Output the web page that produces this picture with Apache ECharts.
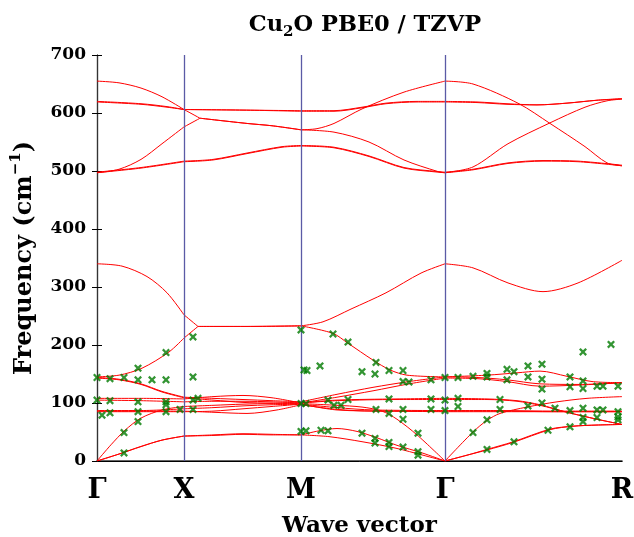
<!DOCTYPE html>
<html>
<head>
<meta charset="utf-8">
<script src="https://cdn.jsdelivr.net/npm/echarts@6/dist/echarts.min.js"></script>
<style>html,body{margin:0;padding:0;background:#fff}#c{width:634px;height:537px}</style>
</head>
<body>
<div id="c"></div>
<script>
// High-symmetry points (label, path position)
const kLabels = ['Γ', 'X', 'M', 'Γ', 'R'];
const kPos = [0, 87, 204, 348, 525];
const breakK = [87, 204, 348, 101, 103];
const yTicks = [0, 100, 200, 300, 400, 500, 600, 700];

// Calculated bands: [wave-vector position, frequency cm-1]
const ta1 = [[0,0],[22,12],[44,25],[65,36],[87,43],[116,45],[146,47],[175,46],[204,45],[222,52],[240,56],[260,51],[280,40],[300,27],[325,14],[348,0],[370,10],[390,20],[416,33],[453,55],[476,60],[500,62],[525,63]];
const ta2 = [[0,0],[22,12],[44,25],[65,36],[87,43],[116,44],[146,46],[175,45],[204,45],[232,42],[266,33],[299,22],[326,10],[348,0],[370,10],[390,19],[416,32],[453,54],[476,60],[500,62],[525,63]];
const la = [[0,0],[14,28],[28,53],[44,74],[65,88],[87,94],[116,96],[146,98],[175,99],[204,99],[240,96],[265,93],[285,86],[300,72],[320,45],[348,0],[376,50],[390,70],[403,82],[430,93],[460,102],[490,108],[525,111]];
const t2uA = [[0,87],[44,87],[87,90],[116,92],[146,95],[175,97],[204,98],[240,92],[276,88],[348,87],[400,87],[460,86],[525,86]];
const t2uB = [[0,86],[44,86],[87,86],[116,84],[150,82],[180,88],[204,97],[240,89],[276,86],[348,86],[400,86],[460,85],[525,85]];
const t2uC = [[0,85],[44,85],[87,85],[116,86],[146,90],[175,94],[204,98],[240,88],[290,86],[348,85],[400,85],[460,85],[525,85]];
const euA = [[0,108],[44,108],[87,107],[116,111],[146,113],[175,109],[204,100],[240,105],[300,107],[348,108],[390,107],[420,104],[443,97],[470,84],[500,72],[525,63]];
const euB = [[0,105],[44,104],[87,102],[116,103],[146,103],[175,102],[204,100],[240,104],[300,106],[348,106],[390,106],[420,103],[443,96],[470,84],[500,72],[525,63]];
const t1uA = [[0,144],[22,141],[44,133],[65,120],[87,110],[116,108],[146,106],[175,104],[204,102],[240,115],[276,127],[312,137],[348,145],[390,148],[420,152],[443,155],[470,146],[495,137],[525,135]];
const t1uB = [[0,143],[22,140],[44,132],[65,119],[87,109],[116,105],[146,101],[175,100],[204,100],[240,110],[276,121],[312,133],[348,143],[380,142],[410,137],[443,129],[483,131],[525,135]];
const t1uLO = [[0,145],[22,148],[45,160],[72,188],[87,212],[101,232],[150,232],[204,233],[236,220],[251,203],[276,174],[293,157],[310,148],[348,145],[380,144],[410,140],[443,133],[483,132],[525,135]];
const a2u = [[0,340],[25,336],[50,318],[70,290],[87,252],[101,232],[150,232],[204,233],[226,240],[254,262],[289,290],[324,324],[348,340],[376,333],[411,307],[446,292],[481,307],[525,346]];
const upLO = [[0,655],[22,652],[44,643],[65,628],[87,606],[103,591],[150,582],[175,578],[204,571],[220,573],[237,582],[265,607],[307,636],[348,655],[376,650],[422,616],[453,582],[488,542],[510,514],[525,509]];
const upTOa = [[0,619],[44,615],[70,610],[87,606],[146,605],[204,603],[237,603],[265,609],[289,616],[320,619],[348,619],[380,618],[410,615],[440,614],[470,617],[500,622],[525,624]];
const upTOb = [[0,620],[44,616],[70,611],[87,606],[146,605],[204,604],[237,604],[265,610],[289,617],[320,620],[348,620],[380,619],[410,616],[440,614],[470,617],[500,622],[525,625]];
const t2gRise = [[0,497],[22,503],[44,520],[65,547],[87,576],[103,591],[150,582],[175,578],[204,571],[237,567],[272,550],[307,519],[341,499],[348,497],[376,507],[411,547],[453,583],[488,610],[510,621],[525,624]];
const t2gA = [[0,497],[44,505],[87,516],[116,519],[150,530],[185,541],[204,543],[237,540],[272,525],[307,505],[341,498],[348,497],[376,502],[411,513],[446,517],[481,516],[525,509]];
const t2gB = [[0,498],[44,506],[87,517],[116,520],[150,531],[185,542],[204,544],[237,541],[272,526],[307,506],[341,499],[348,498],[376,503],[411,514],[446,518],[481,517],[525,510]];

const bands = [ta1, ta2, la, t2uA, t2uB, t2uC, euA, euB, t1uA, t1uB, t1uLO, a2u, upLO, upTOa, upTOb, t2gRise, t2gA, t2gB];

// Experimental points
const expData = [
  [0,144],[13,142],[27,144],[41,160],[41,140],[55,140],[69,140],[69,187],[96,214],[96,145],
  [0,105],[13,104],[41,102],[69,102],[69,97],[96,105],[101,108],
  [5,79],[13,83],[41,85],[69,85],[83,89],[96,89],
  [41,68],[27,49],[27,14],
  [204,226],[207,157],[204,99],[204,51],
  [236,219],[251,205],[279,170],[278,150],[265,154],[210,156],[223,164],[292,156],[306,156],[306,137],[312,136],[334,140],[348,144],
  [209,99],[231,105],[237,96],[244,96],[251,106],[292,107],[334,107],[348,105],[279,89],[292,82],[306,89],[306,72],[334,89],[348,87],[321,48],
  [209,52],[224,53],[231,52],[265,48],[278,39],[278,31],[292,32],[292,25],[306,24],[321,16],[321,10],
  [361,144],[376,146],[390,151],[390,145],[410,158],[410,140],[417,154],[431,164],[431,145],[445,167],[445,141],[445,124],[473,145],[473,128],[486,188],[486,138],[486,125],[500,129],[506,129],[514,201],[521,129],
  [361,108],[361,94],[403,106],[403,89],[431,95],[445,100],[458,91],[473,87],[486,91],[486,75],[486,68],[500,88],[506,88],[500,75],[521,85],[521,76],[521,71],
  [376,49],[390,71],[390,20],[417,33],[451,53],[473,59]
];

function splitSegments(pts) {
  const segs = [];
  let cur = [pts[0]];
  for (let i = 1; i < pts.length; i++) {
    cur.push(pts[i]);
    if (breakK.indexOf(pts[i][0]) >= 0 && i < pts.length - 1) {
      segs.push(cur);
      cur = [pts[i]];
    }
  }
  segs.push(cur);
  return segs;
}

const FONT = 'DejaVu Serif';
const series = [];
series.push({
  type: 'line', data: [], silent: true,
  markLine: {
    silent: true, symbol: ['none', 'none'], label: { show: false },
    lineStyle: { color: '#5a5aa6', width: 1.3, type: 'solid' },
    data: kPos.slice(1, 4).map(v => ({ xAxis: v }))
  }
});
bands.forEach(b => {
  splitSegments(b).forEach(seg => {
    series.push({
      type: 'line', data: seg, smooth: 0.3, symbol: 'none', silent: true,
      lineStyle: { color: '#ff0000', width: 1 }, z: 3
    });
  });
});
series.push({
  type: 'scatter', data: expData, z: 5, silent: true,
  symbol: 'path://M0,2L2,0L5,3L8,0L10,2L7,5L10,8L8,10L5,7L2,10L0,8L3,5Z',
  symbolSize: 8,
  itemStyle: { color: '#007a00' }
});

const chart = echarts.init(document.getElementById('c'), null, { renderer: 'canvas' });
chart.setOption({
  animation: false,
  backgroundColor: '#ffffff',
  title: {
    text: '{a|Cu}{s|2}{a|O PBE0 / TZVP}',
    left: 360, top: 5, textAlign: 'center',
    textStyle: {
      rich: {
        a: { fontFamily: FONT, fontWeight: 'bold', fontSize: 22.5, color: '#000', lineHeight: 30 },
        s: { fontFamily: FONT, fontWeight: 'bold', fontSize: 15, color: '#000', lineHeight: 17, verticalAlign: 'bottom' }
      }
    }
  },
  grid: { left: 97, right: 12, top: 55, bottom: 76, show: false, containLabel: false, outerBoundsMode: 'none' },
  xAxis: [{
    type: 'value', min: 0, max: 525, position: 'bottom',
    name: 'Wave vector', nameLocation: 'middle', nameGap: 54,
    nameTextStyle: { fontFamily: FONT, fontWeight: 'bold', fontSize: 23, color: '#000' },
    axisLine: { show: true, lineStyle: { color: '#333', width: 1.5 } },
    axisTick: { show: false },
    splitLine: { show: false },
    axisLabel: {
      customValues: kPos, margin: 16,
      formatter: v => kLabels[kPos.indexOf(v)],
      fontFamily: FONT, fontWeight: 'bold', fontSize: 27, color: '#000'
    }
  }, {
    type: 'value', min: 0, max: 525, position: 'top',
    axisLine: { show: true, lineStyle: { color: '#000', width: 1 } },
    axisTick: { show: false }, axisLabel: { show: false }, splitLine: { show: false }
  }],
  yAxis: [{
    type: 'value', min: 0, max: 700, interval: 100, position: 'left',
    name: '{a|Frequency (cm}{s|−1}{a|)}', nameLocation: 'middle', nameGap: 56, nameRotate: 90,
    nameTextStyle: {
      rich: {
        a: { fontFamily: FONT, fontWeight: 'bold', fontSize: 24, color: '#000', lineHeight: 32 },
        s: { fontFamily: FONT, fontWeight: 'bold', fontSize: 15, color: '#000', lineHeight: 16, verticalAlign: 'top' }
      }
    },
    axisLine: { show: true, lineStyle: { color: '#333', width: 1.2 } },
    axisTick: { show: true, inside: true, length: 5, lineStyle: { color: '#000' } },
    splitLine: { show: false },
    axisLabel: { margin: 11, fontFamily: FONT, fontWeight: 'bold', fontSize: 17, color: '#000',
      formatter: v => String(yTicks[yTicks.indexOf(v)]) }
  }, {
    type: 'value', min: 0, max: 700, interval: 100, position: 'right',
    axisLine: { show: true, lineStyle: { color: '#333', width: 1.2 } },
    axisTick: { show: true, inside: true, length: 5, lineStyle: { color: '#000' } },
    splitLine: { show: false }, axisLabel: { show: false }
  }],
  series: series
});
</script>
</body>
</html>
